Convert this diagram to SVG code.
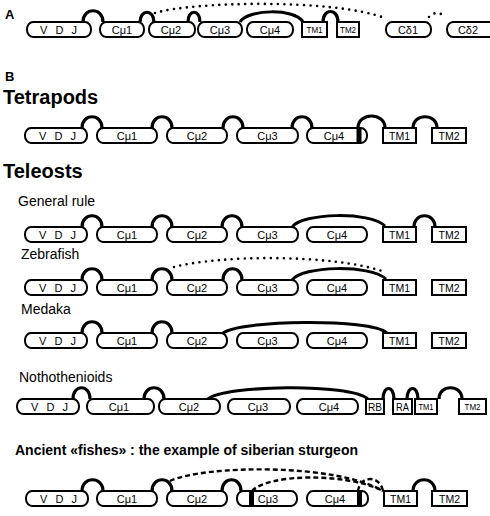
<svg xmlns="http://www.w3.org/2000/svg" width="490" height="516" viewBox="0 0 490 516">
<style>
.box{fill:#fff;stroke:#000;stroke-width:2}
.bar{fill:#000}
.hump{fill:none;stroke:#000;stroke-width:3.2}
.arc{fill:none;stroke:#000;stroke-width:3}
.dot{fill:none;stroke:#000;stroke-width:2.6;stroke-linecap:round;stroke-dasharray:0 6.5}
.dash{fill:none;stroke:#000;stroke-width:2.4;stroke-dasharray:5 3}
text{font-family:"Liberation Sans",Arial,Helvetica,sans-serif;fill:#000}
.lbl{font-size:11px;text-anchor:middle}
.vdj{font-size:11px;word-spacing:5px}
.tm{font-size:10.5px;text-anchor:middle}
.tms{font-size:9px;text-anchor:middle}
.h1{font-size:20px;font-weight:bold}
.h2{font-size:14px}
.hb{font-size:13px;font-weight:bold}
</style>
<g id="titles">
<text class="hb" x="5" y="19">A</text>
<text class="hb" x="5" y="81" font-size="12">B</text>
<text class="h1" x="3" y="104">Tetrapods</text>
<text class="h1" x="3" y="178">Teleosts</text>
<text class="h2" x="18" y="206">General rule</text>
<text class="h2" x="21" y="259">Zebrafish</text>
<text class="h2" x="21" y="314">Medaka</text>
<text class="h2" x="19" y="382">Nothothenioids</text>
<text class="h2" x="15" y="455" font-weight="bold" textLength="343" lengthAdjust="spacingAndGlyphs">Ancient «fishes» : the example of siberian sturgeon</text>
</g>
<g id="connectors">
<!-- Row A -->
<path class="hump" d="M83,22 C83,7 103,7 103,22"/>
<path class="hump" d="M140,22 C140,9 154,9 154,22"/>
<path class="hump" d="M188,22 C188,9 200,9 200,22"/>
<path class="arc" d="M240,22 C248,9 295,8 303,22"/>
<path class="hump" d="M323,22 C323,8 338,8 338,22"/>
<path class="dot" d="M155,13 C190,2 330,-2 385,18"/>
<path class="dot" d="M429,17 Q437,9 445,17"/>
<!-- Tetrapods -->
<path class="hump" d="M82,128 C82,113 102,113 102,128"/>
<path class="hump" d="M152,128 C152,113 172,113 172,128"/>
<path class="hump" d="M223,128 C223,113 243,113 243,128"/>
<path class="hump" d="M292,128 C292,113 312,113 312,128"/>
<path class="hump" d="M358,128 C358,112 385,112 385,128"/>
<path class="hump" d="M413,128 C413,113 437,113 437,128"/>
<!-- General rule -->
<path class="hump" d="M82,227 C82,212 102,212 102,227"/>
<path class="hump" d="M152,227 C152,212 172,212 172,227"/>
<path class="hump" d="M222,227 C222,212 242,212 242,227"/>
<path class="arc" d="M292,227 C302,213 370,211 385,226"/>
<path class="hump" d="M414,227 C414,212 435,212 435,227"/>
<!-- Zebrafish -->
<path class="hump" d="M82,280 C82,265 102,265 102,280"/>
<path class="hump" d="M152,280 C152,265 172,265 172,280"/>
<path class="hump" d="M223,280 C223,265 242,265 242,280" stroke-width="5"/>
<path class="arc" d="M292,280 C302,266 370,264 386,279"/>
<path class="dot" d="M174,267 C220,255 330,254 382,271"/>
<!-- Medaka -->
<path class="hump" d="M82,333 C82,318 102,318 102,333"/>
<path class="hump" d="M152,333 C152,318 172,318 172,333"/>
<path class="arc" d="M223,333 C240,320 370,318 387,333"/>
<!-- Nothothenioids -->
<path class="hump" d="M73,399 C73,384 90,384 90,399"/>
<path class="hump" d="M144,399 C144,384 164,384 164,399"/>
<path class="arc" d="M208,399 C225,385 350,383 368,399"/>
<path class="hump" d="M383,399 C383,385 394,385 394,399"/>
<path class="hump" d="M407,399 C407,385 418,385 418,399"/>
<path class="hump" d="M439,399 C439,384 462,384 462,399"/>
<!-- Sturgeon -->
<path class="hump" d="M82,491 C82,476 103,476 103,491"/>
<path class="hump" d="M152,491 C152,476 172,476 172,491"/>
<path class="hump" d="M222,491 C222,476 241,476 241,491"/>
<path class="hump" d="M413,491 C413,476 435,476 435,491"/>
<path class="dash" d="M170,481 C205,465 335,463 383,491"/>
<path class="dash" d="M252,491 C268,474 345,472 383,491"/>
<path class="dash" d="M358,491 C360,475 380,475 383,491"/>
</g>
<!-- Row A nodes -->
<g id="a-vdj"><rect class="box" x="27" y="22" width="64" height="15" rx="6" ry="7"/><text class="vdj" x="40" y="33.5">V D J</text></g>
<g id="a-cmu1"><rect class="box" x="100" y="22" width="44" height="15" rx="6" ry="7"/><text class="lbl" x="122" y="33.5">Cμ1</text></g>
<g id="a-cmu2"><rect class="box" x="149" y="22" width="46" height="15" rx="6" ry="7"/><text class="lbl" x="171" y="33.5">Cμ2</text></g>
<g id="a-cmu3"><rect class="box" x="198" y="22" width="44" height="15" rx="6" ry="7"/><text class="lbl" x="220" y="33.5">Cμ3</text></g>
<g id="a-cmu4"><rect class="box" x="247" y="22" width="46" height="15" rx="6" ry="7"/><text class="lbl" x="270" y="33.5">Cμ4</text></g>
<g id="a-tm1"><rect class="box" x="302" y="22" width="25" height="15"/><text class="tms" x="314.5" y="33" textLength="16" lengthAdjust="spacingAndGlyphs">TM1</text></g>
<g id="a-tm2"><rect class="box" x="337" y="22" width="22" height="15"/><text class="tms" x="348" y="33" textLength="16" lengthAdjust="spacingAndGlyphs">TM2</text></g>
<g id="a-cd1"><rect class="box" x="386" y="22" width="45" height="15" rx="6" ry="7"/><text class="lbl" x="408" y="33.5">Cδ1</text></g>
<g id="a-cd2"><path class="box" d="M491,22 H453 A6,7.5 0 0 0 453,37 H491"/><text class="lbl" x="468" y="33.5">Cδ2</text></g>
<!-- Tetrapods nodes -->
<g id="t-vdj"><rect class="box" x="25" y="128" width="62" height="15" rx="6" ry="7"/><text class="vdj" x="39" y="139.5">V D J</text></g>
<g id="t-cmu1"><rect class="box" x="97" y="128" width="60" height="15" rx="6" ry="7"/><text class="lbl" x="127" y="139.5">Cμ1</text></g>
<g id="t-cmu2"><rect class="box" x="167" y="128" width="60" height="15" rx="6" ry="7"/><text class="lbl" x="197" y="139.5">Cμ2</text></g>
<g id="t-cmu3"><rect class="box" x="237" y="128" width="61" height="15" rx="6" ry="7"/><text class="lbl" x="267.5" y="139.5">Cμ3</text></g>
<g id="t-cmu4"><rect class="box" x="307" y="128" width="60" height="15" rx="6" ry="7"/><rect class="bar" x="356.5" y="128" width="5" height="15"/><text class="lbl" x="334" y="139.5">Cμ4</text></g>
<g id="t-tm1"><rect class="box" x="383" y="128" width="33" height="15"/><text class="tm" x="399.5" y="139.5">TM1</text></g>
<g id="t-tm2"><rect class="box" x="432" y="128" width="34" height="15"/><text class="tm" x="449" y="139.5">TM2</text></g>
<!-- General rule nodes -->
<g id="g-vdj"><rect class="box" x="25" y="227" width="62" height="15" rx="6" ry="7"/><text class="vdj" x="39" y="238.5">V D J</text></g>
<g id="g-cmu1"><rect class="box" x="97" y="227" width="60" height="15" rx="6" ry="7"/><text class="lbl" x="127" y="238.5">Cμ1</text></g>
<g id="g-cmu2"><rect class="box" x="167" y="227" width="60" height="15" rx="6" ry="7"/><text class="lbl" x="197" y="238.5">Cμ2</text></g>
<g id="g-cmu3"><rect class="box" x="237" y="227" width="61" height="15" rx="6" ry="7"/><text class="lbl" x="267.5" y="238.5">Cμ3</text></g>
<g id="g-cmu4"><rect class="box" x="307" y="227" width="60" height="15" rx="6" ry="7"/><text class="lbl" x="337" y="238.5">Cμ4</text></g>
<g id="g-tm1"><rect class="box" x="383" y="227" width="33" height="15"/><text class="tm" x="399.5" y="238.5">TM1</text></g>
<g id="g-tm2"><rect class="box" x="432" y="227" width="34" height="15"/><text class="tm" x="449" y="238.5">TM2</text></g>
<!-- Zebrafish nodes -->
<g id="z-vdj"><rect class="box" x="25" y="280" width="62" height="15" rx="6" ry="7"/><text class="vdj" x="39" y="291.5">V D J</text></g>
<g id="z-cmu1"><rect class="box" x="97" y="280" width="60" height="15" rx="6" ry="7"/><text class="lbl" x="127" y="291.5">Cμ1</text></g>
<g id="z-cmu2"><rect class="box" x="167" y="280" width="60" height="15" rx="6" ry="7"/><text class="lbl" x="197" y="291.5">Cμ2</text></g>
<g id="z-cmu3"><rect class="box" x="237" y="280" width="61" height="15" rx="6" ry="7"/><text class="lbl" x="267.5" y="291.5">Cμ3</text></g>
<g id="z-cmu4"><rect class="box" x="307" y="280" width="60" height="15" rx="6" ry="7"/><text class="lbl" x="337" y="291.5">Cμ4</text></g>
<g id="z-tm1"><rect class="box" x="383" y="280" width="33" height="15"/><text class="tm" x="399.5" y="291.5">TM1</text></g>
<g id="z-tm2"><rect class="box" x="432" y="280" width="34" height="15"/><text class="tm" x="449" y="291.5">TM2</text></g>
<!-- Medaka nodes -->
<g id="m-vdj"><rect class="box" x="25" y="333" width="62" height="15" rx="6" ry="7"/><text class="vdj" x="39" y="344.5">V D J</text></g>
<g id="m-cmu1"><rect class="box" x="97" y="333" width="60" height="15" rx="6" ry="7"/><text class="lbl" x="127" y="344.5">Cμ1</text></g>
<g id="m-cmu2"><rect class="box" x="167" y="333" width="60" height="15" rx="6" ry="7"/><text class="lbl" x="197" y="344.5">Cμ2</text></g>
<g id="m-cmu3"><rect class="box" x="237" y="333" width="61" height="15" rx="6" ry="7"/><text class="lbl" x="267.5" y="344.5">Cμ3</text></g>
<g id="m-cmu4"><rect class="box" x="307" y="333" width="60" height="15" rx="6" ry="7"/><text class="lbl" x="337" y="344.5">Cμ4</text></g>
<g id="m-tm1"><rect class="box" x="383" y="333" width="33" height="15"/><text class="tm" x="399.5" y="344.5">TM1</text></g>
<g id="m-tm2"><rect class="box" x="432" y="333" width="34" height="15"/><text class="tm" x="449" y="344.5">TM2</text></g>
<!-- Nothothenioids nodes -->
<g id="n-vdj"><rect class="box" x="17" y="399" width="62" height="15" rx="6" ry="7"/><text class="vdj" x="31" y="410.5">V D J</text></g>
<g id="n-cmu1"><rect class="box" x="87" y="399" width="67" height="15" rx="6" ry="7"/><text class="lbl" x="119" y="410.5">Cμ1</text></g>
<g id="n-cmu2"><rect class="box" x="159" y="399" width="61" height="15" rx="6" ry="7"/><text class="lbl" x="189" y="410.5">Cμ2</text></g>
<g id="n-cmu3"><rect class="box" x="228" y="399" width="62" height="15" rx="6" ry="7"/><text class="lbl" x="258" y="410.5">Cμ3</text></g>
<g id="n-cmu4"><rect class="box" x="297" y="399" width="61" height="15" rx="6" ry="7"/><text class="lbl" x="329" y="410.5">Cμ4</text></g>
<g id="n-rb"><rect class="box" x="366" y="399" width="18" height="15"/><text class="tm" x="375" y="410.5" textLength="14" lengthAdjust="spacingAndGlyphs">RB</text></g>
<g id="n-ra"><rect class="box" x="393" y="399" width="19" height="15"/><text class="tm" x="402.5" y="410.5" textLength="13" lengthAdjust="spacingAndGlyphs">RA</text></g>
<g id="n-tm1"><rect class="box" x="415" y="399" width="22" height="15"/><text class="tms" x="426" y="410" textLength="15" lengthAdjust="spacingAndGlyphs">TM1</text></g>
<g id="n-tm2"><rect class="box" x="459" y="399" width="27" height="15"/><text class="tms" x="472.5" y="410" textLength="16" lengthAdjust="spacingAndGlyphs">TM2</text></g>
<!-- Sturgeon nodes -->
<g id="s-vdj"><rect class="box" x="26" y="491" width="62" height="15" rx="6" ry="7"/><text class="vdj" x="40" y="502.5">V D J</text></g>
<g id="s-cmu1"><rect class="box" x="97" y="491" width="60" height="15" rx="6" ry="7"/><text class="lbl" x="127" y="502.5">Cμ1</text></g>
<g id="s-cmu2"><rect class="box" x="167" y="491" width="60" height="15" rx="6" ry="7"/><text class="lbl" x="197" y="502.5">Cμ2</text></g>
<g id="s-cmu3"><rect class="box" x="237" y="491" width="60" height="15" rx="6" ry="7"/><rect class="bar" x="249" y="491" width="5" height="15"/><text class="lbl" x="268" y="502.5">Cμ3</text></g>
<g id="s-cmu4"><rect class="box" x="307" y="491" width="61" height="15" rx="6" ry="7"/><rect class="bar" x="357" y="491" width="5" height="15"/><text class="lbl" x="335" y="502.5">Cμ4</text></g>
<g id="s-tm1"><rect class="box" x="384" y="491" width="33" height="15"/><text class="tm" x="400.5" y="502.5">TM1</text></g>
<g id="s-tm2"><rect class="box" x="432" y="491" width="35" height="15"/><text class="tm" x="449.5" y="502.5">TM2</text></g>
</svg>
